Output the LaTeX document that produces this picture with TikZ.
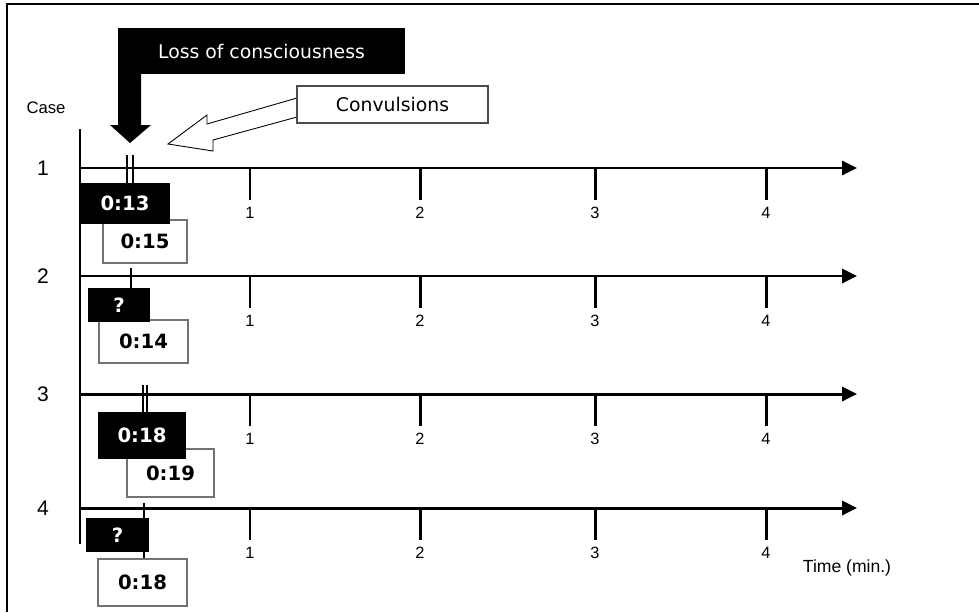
\documentclass[tikz,border=0pt]{standalone}
\usepackage{fontspec}
\setmainfont{Liberation Sans}
\newfontfamily\vfont{DejaVu Sans}
\usetikzlibrary{arrows.meta}

\tikzset{
  timeline/.style={line width=1.7pt,-{Triangle[length=8.5pt,width=8pt]}},
  tickline/.style={line width=1.7pt},
  onset/.style={line width=0.9pt},
  blackbox/.style 2 args={fill=black,text=white,inner sep=0pt,
    minimum width=#1*0.02cm,minimum height=#2*0.02cm},
  whitebox/.style 2 args={draw=black!55,line width=0.6pt,fill=white,inner sep=0pt,
    minimum width=#1*0.02cm,minimum height=#2*0.02cm},
  timefont/.style={font=\vfont\bfseries\fontsize{11.2}{13}\selectfont},
  headfont/.style={font=\vfont\fontsize{10.7}{12}\selectfont},
}

\begin{document}
\begin{tikzpicture}[x=0.02cm,y=-0.02cm]
  \useasboundingbox (0,0) rectangle (979,612);
  % frame
  \draw[line width=0.8pt] (7,612) -- (7,4) -- (979,4);

  % headings
  \node[blackbox={287}{46},headfont] (loc) at (261.5,51) {Loss of consciousness};
  \fill (118,74) -- (141,74) -- (141,125) -- (151,125) -- (130,143) -- (110,125) -- (118,125) -- cycle;
  \coordinate (convtip) at (168,144);
  \draw[line width=0.5pt,fill=white] (297,98) -- (207,124) -- (207,115) -- (convtip)
    -- (213,151) -- (213,140) -- (297,117);
  \node[whitebox={191}{37},draw=black!70,headfont] (conv) at (392.5,104.5) {Convulsions};

  \node[font=\fontsize{9.5}{11}\selectfont] (case) at (46,108) {Case};
  \coordinate (axtop) at (80,129);
  \coordinate (axbot) at (80,544);
  \draw[line width=1.2pt] (axtop) -- (axbot);

  % time lines
  \foreach \c/\y in {1/168,2/276,3/394,4/508} {
    \node[font=\fontsize{12}{14}\selectfont] (num\c) at (43,\y) {\c};
    \coordinate (s\c) at (80,\y);
    \coordinate (e\c) at (857,\y);
    \draw[timeline] (s\c) -- (e\c);
    \foreach \t/\x in {1/250,2/420,3/595,4/766} {
      \draw[tickline] (\x,\y) -- (\x,\y+32);
      \node[font=\fontsize{9.3}{11}\selectfont] (tk\c\t) at (\x,\y+45) {\t};
    }
  }

  % onset marks
  \draw[onset] (127,155) -- (127,183) (133,155) -- (133,183);
  \draw[onset] (131,268) -- (131,288);
  \draw[onset] (143,385) -- (143,412) (147,385) -- (147,412);
  \draw[onset] (144,503) -- (144,559);

  % case 1
  \node[whitebox={84}{43},timefont] (w1) at (145,241.5) {0:15};
  \node[blackbox={90}{41},timefont] (b1) at (125,203.5) {0:13};
  % case 2
  \node[whitebox={89}{43},timefont] (w2) at (143.5,341.5) {0:14};
  \node[blackbox={62}{34},timefont] (b2) at (119,305) {?};
  % case 3
  \node[whitebox={87}{48},timefont] (w3) at (170.5,473) {0:19};
  \node[blackbox={88}{47},timefont] (b3) at (142,435.5) {0:18};
  % case 4
  \node[whitebox={89}{47},timefont] (w4) at (142.5,582.5) {0:18};
  \node[blackbox={63}{34},timefont] (b4) at (117.5,535) {?};

  \node[font=\fontsize{10}{12}\selectfont] (tlabel) at (847,568) {Time (min.)};
\end{tikzpicture}
\end{document}
